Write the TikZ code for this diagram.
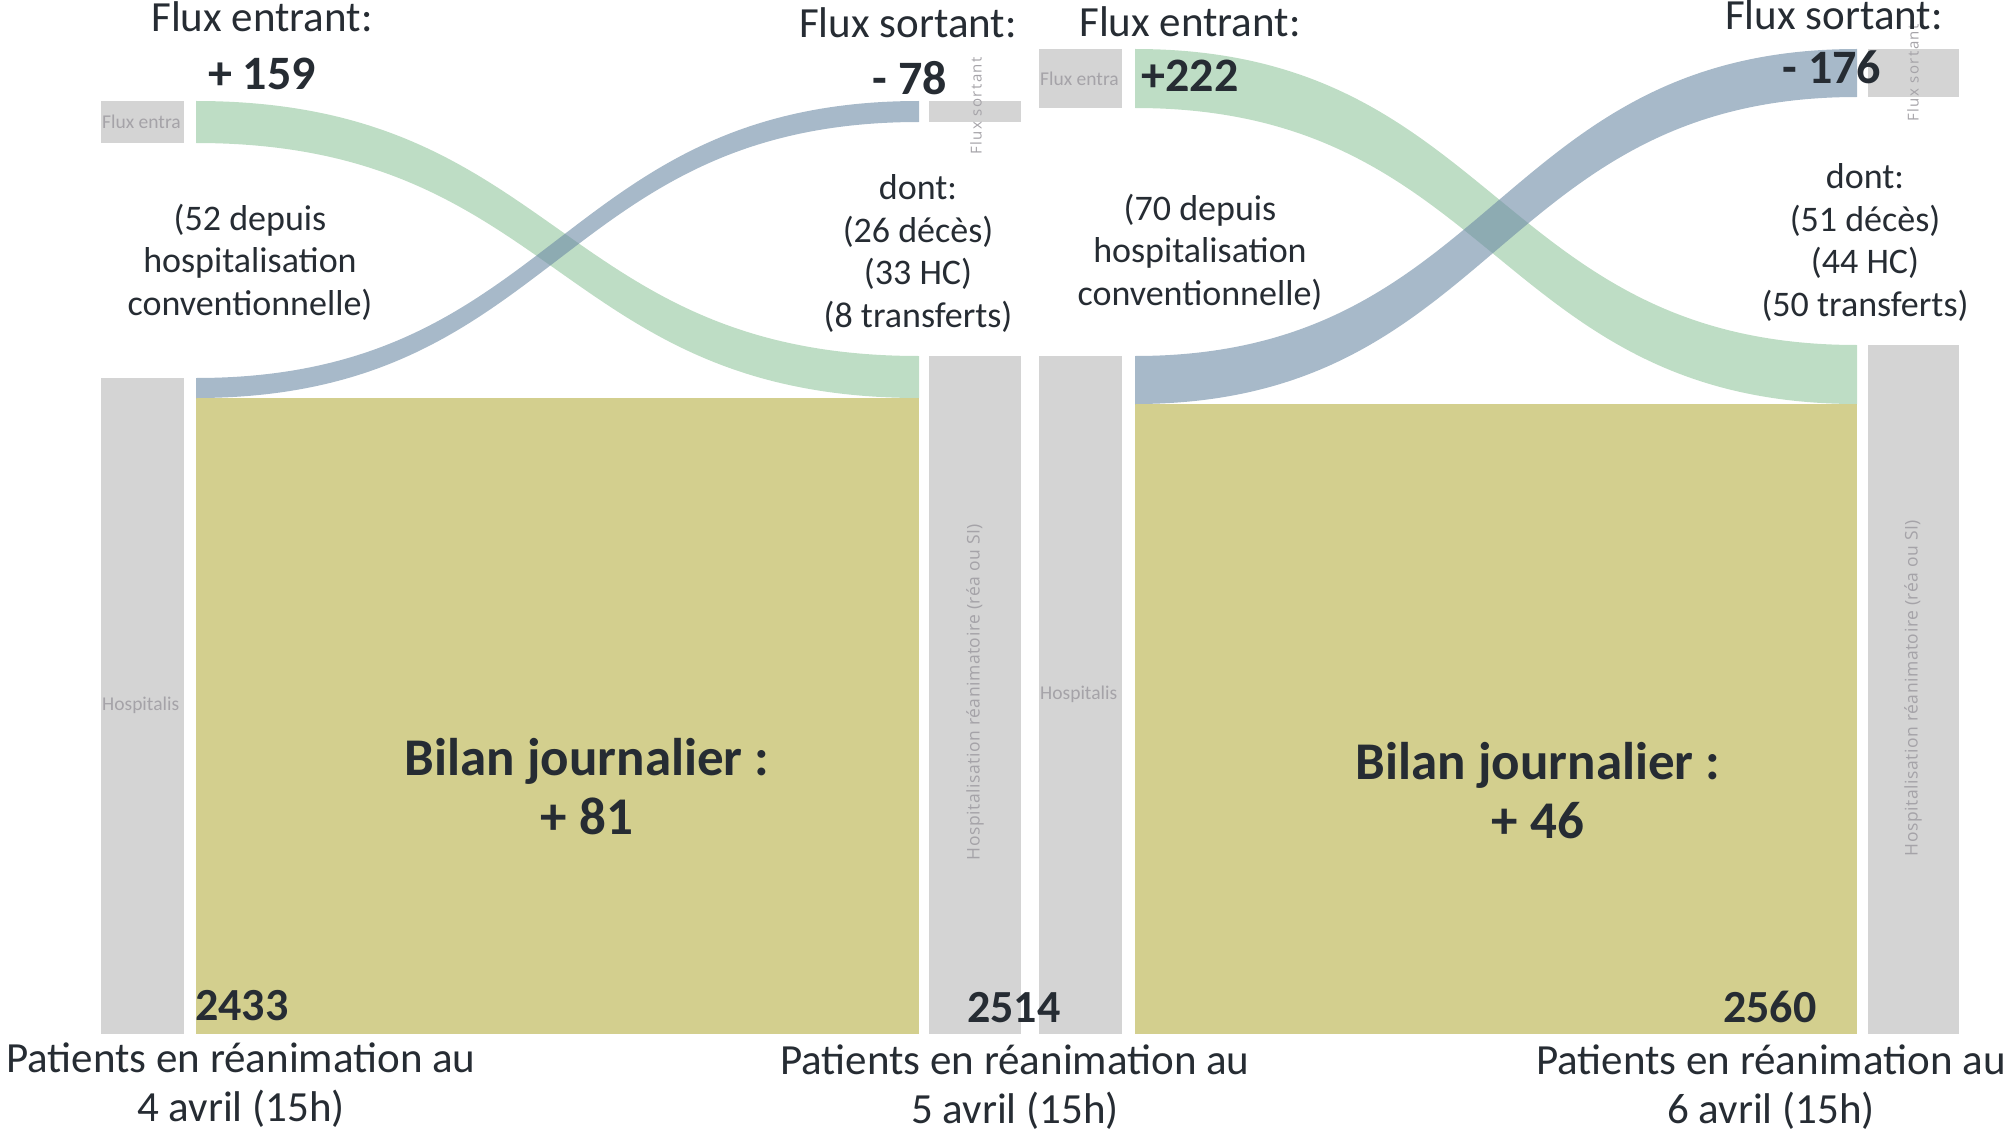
\documentclass[tikz,border=0pt]{standalone}
\usepackage{fontspec}
\setmainfont{Carlito}
\newfontfamily\tabfont{Open Sans}[LetterSpace=10]
\newfontfamily\tabfontb{Open Sans}[LetterSpace=3]
\definecolor{barg}{RGB}{212,212,212}
\definecolor{olivec}{RGB}{211,207,142}
\definecolor{bandg}{RGB}{147,198,158}
\definecolor{bandb}{RGB}{108,138,165}
\definecolor{ink}{RGB}{38,44,51}
\definecolor{lbl}{RGB}{165,163,168}
\tikzset{
  barbox/.style={fill=barg},
  flowbox/.style={fill=olivec},
  greenband/.style={fill=bandg, fill opacity=0.6},
  blueband/.style={fill=bandb, fill opacity=0.6},
  hdr/.style={font=\fontsize{43}{50}\selectfont, text=ink, anchor=base, inner sep=0pt},
  num/.style={font=\bfseries\fontsize{48}{56}\selectfont, text=ink, anchor=base, inner sep=0pt},
  note/.style={font=\fontsize{36}{42.5}\selectfont, text=ink, anchor=base, inner sep=0pt},
  bilan/.style={font=\bfseries\fontsize{53}{59}\selectfont, text=ink, anchor=base, inner sep=0pt},
  total/.style={font=\bfseries\fontsize{46}{50}\selectfont, text=ink, anchor=base west, inner sep=0pt},
  datelbl/.style={font=\fontsize{43}{49}\selectfont, text=ink, anchor=base, inner sep=0pt},
  smalllbl/.style={font=\fontsize{19.5}{22}\selectfont, text=lbl, anchor=west, inner sep=0pt},
  rotlbl/.style={font=\tabfont\fontsize{15}{16}\selectfont, text=lbl, rotate=90, inner sep=0pt},
  rotlong/.style={font=\tabfontb\fontsize{17.5}{18}\selectfont, text=lbl, rotate=90, inner sep=0pt},
}
\newcommand{\lines}[1]{\begin{tabular}[t]{@{}c@{}}#1\end{tabular}}
\begin{document}
\begin{tikzpicture}[x=1pt,y=-1pt]
\useasboundingbox (0,0) rectangle (2009,1134);
% ---------- panel 1 ----------
\fill[barbox] (101,101) rectangle (184,143);
\fill[barbox] (101,378) rectangle (184,1034);
\fill[barbox] (929,101) rectangle (1021,122);
\fill[barbox] (929,356) rectangle (1021,1034);
\fill[flowbox] (196,398) rectangle (919,1034);
\fill[greenband] (196,101) .. controls (557.5,101) and (557.5,356) .. (919,356)
   -- (919,398) .. controls (557.5,398) and (557.5,143) .. (196,143) -- cycle;
\fill[blueband] (196,378) .. controls (557.5,378) and (557.5,101) .. (919,101)
   -- (919,122) .. controls (557.5,122) and (557.5,398) .. (196,398) -- cycle;
\node[smalllbl] (fe1) at (102,122) {Flux entra};
\node[smalllbl] (h1) at (102,705) {Hospitalis};
\node[rotlbl] (fs1) at (976,106) {Flux sortant};
\node[rotlong] (hr1) at (975,692) {Hospitalisation réanimatoire (réa ou SI)};
% ---------- panel 2 ----------
\fill[barbox] (1039,49) rectangle (1122,108);
\fill[barbox] (1039,356) rectangle (1122,1034);
\fill[barbox] (1868,49) rectangle (1959,97);
\fill[barbox] (1868,345) rectangle (1959,1034);
\fill[flowbox] (1135,404) rectangle (1857,1034);
\fill[greenband] (1135,49) .. controls (1496,49) and (1496,345) .. (1857,345)
   -- (1857,404) .. controls (1496,404) and (1496,108) .. (1135,108) -- cycle;
\fill[blueband] (1135,356) .. controls (1496,356) and (1496,49) .. (1857,49)
   -- (1857,97) .. controls (1496,97) and (1496,404) .. (1135,404) -- cycle;
\node[smalllbl] (fe2) at (1040,79) {Flux entra};
\node[smalllbl] (h2) at (1040,694) {Hospitalis};
\node[rotlbl] (fs2) at (1913,73) {Flux sortant};
\node[rotlong] (hr2) at (1913,688) {Hospitalisation réanimatoire (réa ou SI)};
% ---------- texts panel 1 ----------
\node[hdr] (in1) at (262,32) {Flux entrant:};
\node[num] (inv1) at (262,90) {+ 159};
\node[hdr] (out1) at (908,38) {Flux sortant:};
\node[num] (outv1) at (910,95) {- 78};
\node[note] (n1) at (250,230) {\lines{(52 depuis\\hospitalisation\\conventionnelle)}};
\node[note] (d1) at (918,200) {\lines{dont:\\(26 décès)\\(33 HC)\\(8 transferts)}};
\node[bilan] (b1) at (587,775) {\begin{tabular}[t]{@{}c@{}}Bilan journalier :\\+ 81\end{tabular}};
\node[total] (t1) at (195,1020) {2433};
\node[total] (t2) at (967,1022) {2514};
\node[datelbl] (p1) at (241,1072) {\lines{Patients en réanimation au\\4 avril (15h)}};
% ---------- texts panel 2 ----------
\node[hdr] (in2) at (1190,37) {Flux entrant:};
\node[num] (inv2) at (1190,92) {+222};
\node[hdr] (out2) at (1834,30) {Flux sortant:};
\node[num] (outv2) at (1832,84) {- 176};
\node[note] (n2) at (1200,220) {\lines{(70 depuis\\hospitalisation\\conventionnelle)}};
\node[note] (d2) at (1865,189) {\lines{dont:\\(51 décès)\\(44 HC)\\(50 transferts)}};
\node[bilan] (b2) at (1538,779) {\begin{tabular}[t]{@{}c@{}}Bilan journalier :\\+ 46\end{tabular}};
\node[total] (t3) at (1723,1022) {2560};
\node[datelbl] (p2) at (1015,1074) {\lines{Patients en réanimation au\\5 avril (15h)}};
\node[datelbl] (p3) at (1771,1074) {\lines{Patients en réanimation au\\6 avril (15h)}};
\end{tikzpicture}
\end{document}
